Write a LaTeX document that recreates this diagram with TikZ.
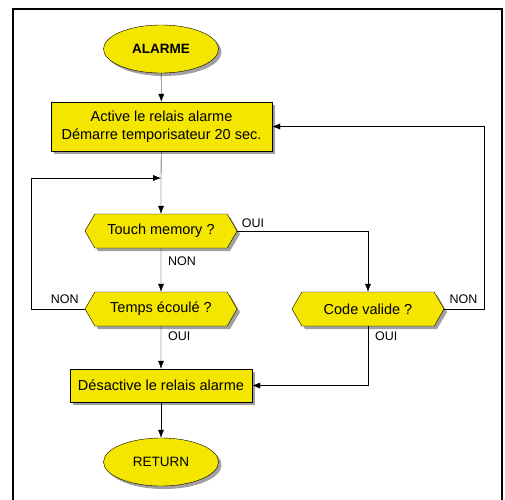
\documentclass[tikz,border=0pt]{standalone}
\usepackage{fontspec}
\setmainfont{Liberation Sans}
\usepackage{tikz}
\usetikzlibrary{arrows.meta,positioning,shapes.geometric,shapes.symbols}

\definecolor{alarmyellow}{HTML}{F5E600}
\definecolor{shadowgray}{HTML}{A0A0A0}

\begin{document}
\begin{tikzpicture}[
  shadowc/.style={fill=shadowgray, draw=none},
  term/.style={ellipse, draw, fill=alarmyellow, minimum width=115pt, minimum height=48pt, inner sep=0pt, font=\fontsize{13.5}{16}\selectfont},
  action/.style={rectangle, draw, fill=alarmyellow, align=center, inner sep=0pt, font=\fontsize{14.5}{18}\selectfont},
  test/.style={signal, signal to=east and west, signal pointer angle=120, draw, fill=alarmyellow, minimum width=152pt, minimum height=34pt, inner sep=0pt, font=\fontsize{14.5}{17}\selectfont},
  lbl/.style={font=\fontsize{12.5}{14}\selectfont, inner sep=0pt},
  >={Latex[length=8pt,width=6pt]}
]
\useasboundingbox (0pt,0pt) rectangle (505pt,-499pt);
\fill[white] (0pt,0pt) rectangle (505pt,-499pt);
% cadre
\draw[line width=2pt] (12.5pt,-520pt) -- (12.5pt,-8.5pt) -- (502pt,-8.5pt) -- (502pt,-520pt);

% ombres
\fill[shadowc] (164pt,-52pt) ellipse (57.5pt and 24pt);
\fill[shadowc] (164pt,-465pt) ellipse (57.5pt and 24pt);
\fill[shadowc] (54pt,-105pt) rectangle (275pt,-154pt);
\fill[shadowc] (73pt,-372pt) rectangle (255pt,-405pt);
\foreach \x/\y in {164/234, 164/312, 371/312}
  \fill[shadowc] (\x pt-76pt,-\y pt) -- (\x pt-66pt,-\y pt+17pt) -- (\x pt+66pt,-\y pt+17pt)
    -- (\x pt+76pt,-\y pt) -- (\x pt+66pt,-\y pt-17pt) -- (\x pt-66pt,-\y pt-17pt) -- cycle;

\node[term]   (alarme) at (161pt,-49pt)    {\textbf{ALARME}};
\node[action, minimum width=221pt, minimum height=49pt] (act) at (161.5pt,-126.5pt)
  {Active le relais alarme\\Démarre temporisateur 20 sec.};
\coordinate (j1) at (161pt,-178pt);
\node[test]   (touch)  at (161pt,-231pt)   {Touch memory ?};
\node[test]   (temps)  at (161pt,-309pt)   {Temps écoulé ?};
\node[test]   (code)   at (368pt,-309pt)   {Code valide ?};
\node[action, minimum width=182pt, minimum height=33pt] (desact) at (161pt,-385.5pt)
  {Désactive le relais alarme};
\node[term]   (ret)    at (161pt,-462pt)   {RETURN};

\draw[->] (alarme) -- (act);
\draw (act) -- (j1);
\draw[->] (j1) -- (touch);
\draw[->] (touch) -- node[lbl, right=7pt, pos=0.3] (l1) {NON} (temps);
\draw[->] (touch.east) -| node[lbl, pos=0.06, above=3pt] (l2) {OUI} (code.north);
\draw[->] (temps.west) -- node[lbl, above=5pt, pos=0.37] (l3) {NON} ++(-54pt,0pt) |- (j1);
\draw[->] (code.east) -- node[lbl, above=5pt, pos=0.48] (l4) {NON} ++(40pt,0pt) |- (act.east);
\draw[->] (temps) -- node[lbl, right=7pt, pos=0.23] (l5) {OUI} (desact);
\draw[->] (code.south) |- node[lbl, right=7pt, pos=0.085] (l6) {OUI} (desact.east);
\draw[->] (desact) -- (ret);
\end{tikzpicture}
\end{document}
